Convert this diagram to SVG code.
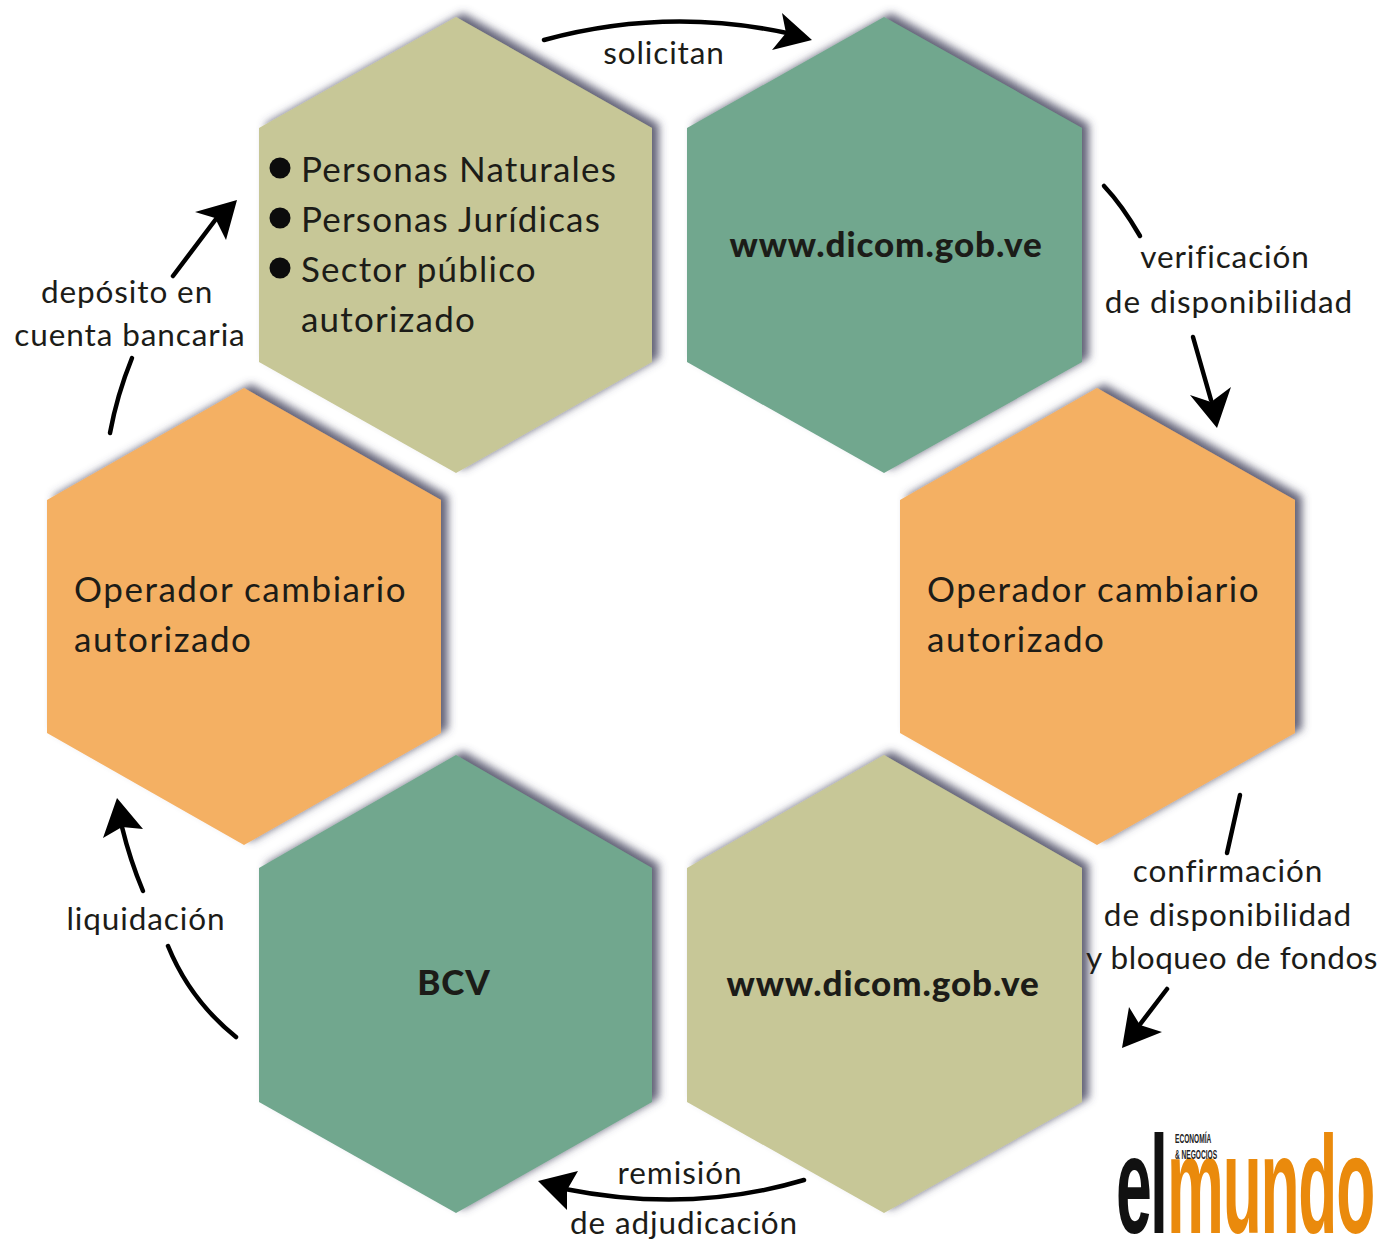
<svg xmlns="http://www.w3.org/2000/svg" width="1382" height="1241" viewBox="0 0 1382 1241">
<style>
text{font-family:"Lato","Noto Sans",sans-serif;fill:#1c1c18}
.l{font-size:35px;letter-spacing:1.2px}
.o{letter-spacing:1.55px}
.c{font-size:31.5px;letter-spacing:.9px;text-anchor:middle}
.b{font-size:35px;font-weight:900;letter-spacing:.9px;text-anchor:middle}
.hex{filter:url(#sh)}
.olive{fill:#c7c797}.green{fill:#71a78e}.orange{fill:#f4b063}
.con path{fill:none;stroke:#000;stroke-width:4.5;stroke-linecap:round}
.con polygon{fill:#000}
</style>
<defs>
<filter id="sh" x="-10%" y="-10%" width="125%" height="125%"><feDropShadow dx="7" dy="-4" stdDeviation="4.5" flood-color="#4a4a60" flood-opacity=".85"/></filter>
</defs>
<rect width="1382" height="1241" fill="#fff"/>
<g id="node-personas">
<polygon class="hex olive" points="456,17 652,128 652,362 456,473 259,362 259,128"/>
<circle cx="280" cy="168" r="10.5" fill="#0c0c0c"/><circle cx="280" cy="218" r="10.5" fill="#0c0c0c"/><circle cx="280" cy="268" r="10.5" fill="#0c0c0c"/>
<text class="l" x="301" y="182">Personas Naturales</text>
<text class="l" x="301" y="232">Personas Jurídicas</text>
<text class="l" x="301" y="282">Sector público</text>
<text class="l" x="301" y="332">autorizado</text>
</g>
<g id="node-dicom-top">
<polygon class="hex green" points="884,17 1082,128 1082,362 884,473 687,362 687,128"/>
<text class="b" x="886" y="257">www.dicom.gob.ve</text>
</g>
<g id="node-operador-right">
<polygon class="hex orange" points="1097,388 1295,500 1295,733 1097,845 900,733 900,500"/>
<text class="l o" x="927" y="602">Operador cambiario</text>
<text class="l o" x="927" y="652">autorizado</text>
</g>
<g id="node-dicom-bottom">
<polygon class="hex olive" points="884,755 1082,868 1082,1102 884,1213 687,1102 687,868"/>
<text class="b" x="883" y="996">www.dicom.gob.ve</text>
</g>
<g id="node-bcv">
<polygon class="hex green" points="456,755 652,868 652,1102 456,1213 259,1102 259,868"/>
<text class="b" x="454" y="995">BCV</text>
</g>
<g id="node-operador-left">
<polygon class="hex orange" points="244,388 441,500 441,733 244,845 47,733 47,500"/>
<text class="l o" x="74" y="602">Operador cambiario</text>
<text class="l o" x="74" y="652">autorizado</text>
</g>
<g id="connectors" class="con">
<path d="M544 40Q665 7 787 33"/><polygon points="812,40 782,13 786,33 772,50"/>
<path d="M1104 186Q1122 205 1140 236"/>
<path d="M1193 337L1211 400"/><polygon points="1217,428 1231,387 1211,402 1190,395"/>
<path d="M1240 795L1227 853"/>
<path d="M1167 989L1138 1027"/><polygon points="1122,1048 1162,1032 1140,1025 1129,1007"/>
<path d="M804 1180Q690 1214 565 1189"/><polygon points="538,1181 567,1210 567,1190 578,1171"/>
<path d="M236 1037Q190 1000 168 946"/>
<path d="M143 891Q130 860 122 827"/><polygon points="117,798 103,838 122,827 143,829"/>
<path d="M110 433Q117 395 132 358"/>
<path d="M173 276L216 219"/><polygon points="237,200 195,212 215,218 226,240"/>
</g>
<g id="labels">
<text class="c" x="664" y="64">solicitan</text>
<text class="c" x="1225" y="268">verificación</text>
<text class="c" x="1229" y="313">de disponibilidad</text>
<text class="c" x="1228" y="882">confirmación</text>
<text class="c" x="1228" y="926">de disponibilidad</text>
<text class="c" x="1232" y="969" style="letter-spacing:.55px">y bloqueo de fondos</text>
<text class="c" x="680" y="1184">remisión</text>
<text class="c" x="684" y="1234">de adjudicación</text>
<text class="c" x="146" y="930">liquidación</text>
<text class="c" x="127" y="303">depósito en</text>
<text class="c" x="130" y="346">cuenta bancaria</text>
</g>
<g id="logo">
<text transform="translate(1116 1233) scale(.62 1.34)" style="font-family:'Liberation Sans',sans-serif;font-size:104px;font-weight:700;fill:#111;letter-spacing:-3px">el</text>
<text transform="translate(1167 1233) scale(.615 1.34)" style="font-family:'Liberation Sans',sans-serif;font-size:104px;font-weight:700;fill:#ea8a0c;letter-spacing:-2px">mundo</text>
<text transform="translate(1175 1143) scale(.55 1.1)" style="font-family:'Liberation Sans',sans-serif;font-size:12px;font-weight:700;fill:#222">ECONOMÍA</text>
<text transform="translate(1175 1159) scale(.55 1.1)" style="font-family:'Liberation Sans',sans-serif;font-size:12px;font-weight:700;fill:#222">&amp; NEGOCIOS</text>
</g>
</svg>
